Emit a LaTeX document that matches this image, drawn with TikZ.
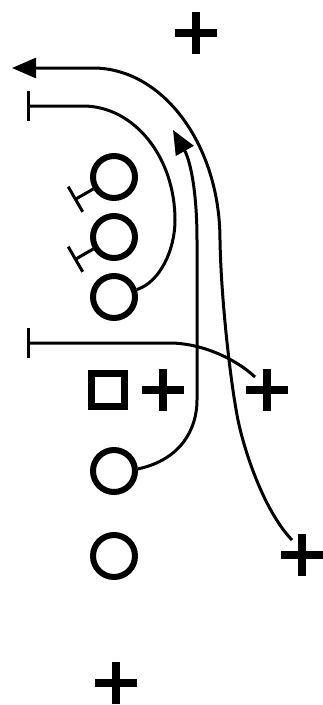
\documentclass[tikz,border=0pt]{standalone}
\usetikzlibrary{arrows.meta}
\begin{document}
\begin{tikzpicture}[
    x=1pt, y=-1pt,
    off/.style={circle, draw=black, line width=6pt, minimum size=42pt, inner sep=0pt},
    ctr/.style={rectangle, draw=black, line width=7pt, minimum size=33pt, inner sep=0pt},
    defender/.style={rectangle, inner sep=0pt, minimum size=42pt,
      path picture={\draw[line width=8pt]
        (path picture bounding box.north) -- (path picture bounding box.south)
        (path picture bounding box.west) -- (path picture bounding box.east);}},
    route/.style={draw=black, line width=3pt},
    run/.style={route, -{Triangle[length=24pt, width=20pt]}},
    block/.style={route, -{Bar[width=30pt]}},
    stem/.style={route, -{Bar[width=29pt]}}]

    \path[use as bounding box, fill=white] (0,0) rectangle (322,705);

    \node[defender] (d1) at (196,33) {};
    \node[defender] (d2) at (163,390) {};
    \node[defender] (d3) at (267,390) {};
    \node[defender] (d4) at (302,555) {};
    \node[defender] (d5) at (116,683) {};

    \node[off] (o1) at (114,177) {};
    \node[off] (o2) at (114,237) {};
    \node[off] (o3) at (114,297) {};
    \node[ctr] (c) at (108,390) {};
    \node[off] (o4) at (114,471) {};
    \node[off] (o5) at (114,556) {};

    \coordinate (s1) at ([shift={(210:22pt)}]o1.210);
    \coordinate (s2) at ([shift={(210:22pt)}]o2.210);
    \draw[stem] (o1.210) -- (s1);
    \draw[stem] (o2.210) -- (s2);

    \coordinate (t1) at (27,106);
    \coordinate (t2) at (27,343);
    \coordinate (a1) at (12,68);
    \coordinate (a2) at (173,130);

    \draw[block] (o3.18) .. controls (160,282) and (175,250) .. (175,220)
      .. controls (175,157) and (134,106) .. (83,106) -- (t1);

    \draw[block] ([xshift=-12pt, yshift=13pt]d3.center)
      .. controls (235,358) and (200,343) .. (170,343) -- (t2);

    \draw[run] (o4.5) .. controls (180,460) and (197,430) .. (197,400) -- (197,240)
      .. controls (197,190) and (190,160) .. (a2);

    \draw[run] ([xshift=-10pt, yshift=15pt]d4.center)
      .. controls (265,512) and (245,454) .. (238,420)
      .. controls (231,386) and (221,300) .. (220,240)
      .. controls (220,145) and (163,68) .. (93,68) -- (a1);
  \end{tikzpicture}
\end{document}
